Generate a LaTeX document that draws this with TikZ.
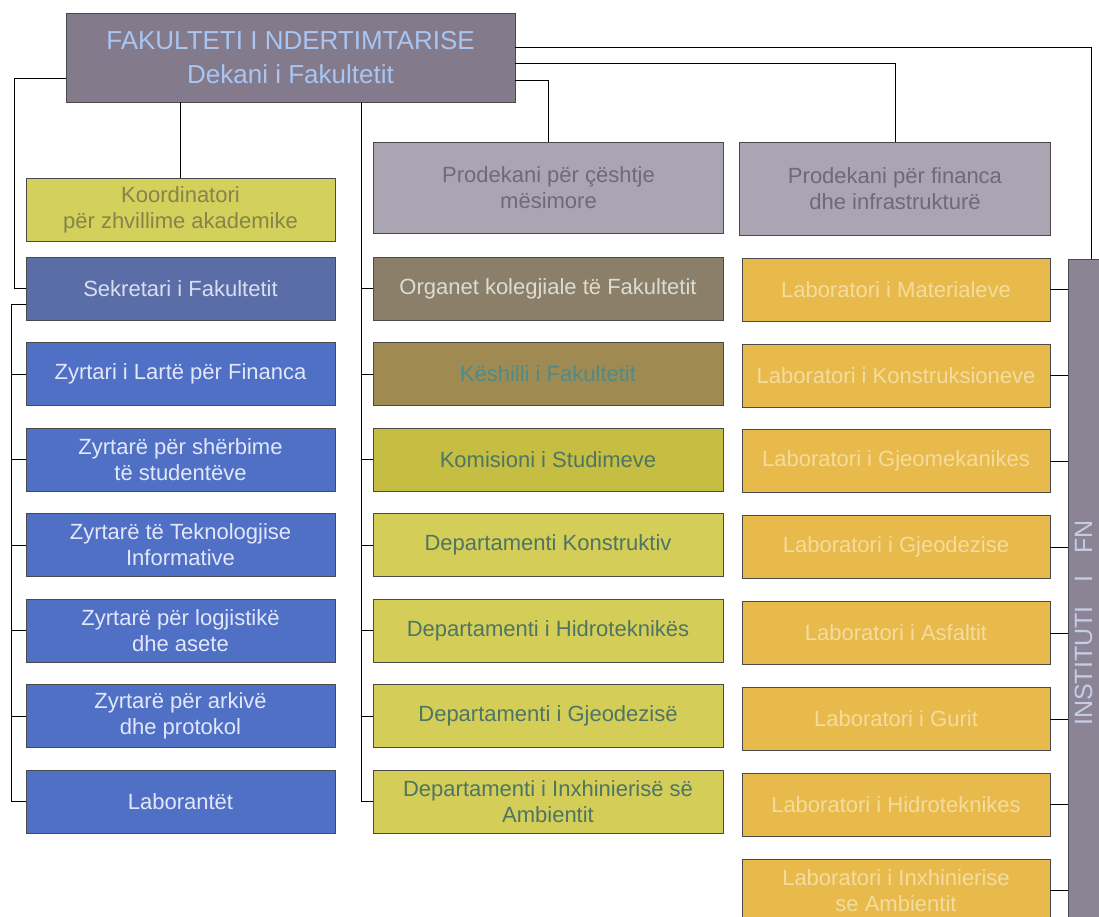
\documentclass[tikz,border=0pt]{standalone}
\usepackage{fontspec}
\setmainfont{Liberation Sans}
\usepackage{graphicx}
\definecolor{dekan}{HTML}{837A8B}
\definecolor{dekantxt}{HTML}{A9C5F2}
\definecolor{koord}{HTML}{D3D05C}
\definecolor{koordtxt}{HTML}{86844A}
\definecolor{sekr}{HTML}{5B6DA6}
\definecolor{sekrtxt}{HTML}{D8DEF2}
\definecolor{zyrt}{HTML}{5070C6}
\definecolor{zyrttxt}{HTML}{E2E8FA}
\definecolor{prod}{HTML}{ABA4B3}
\definecolor{prodtxt}{HTML}{6F6A78}
\definecolor{organ}{HTML}{8B7F69}
\definecolor{organtxt}{HTML}{DCDCD2}
\definecolor{keshill}{HTML}{9F8B52}
\definecolor{keshilltxt}{HTML}{4D8B8A}
\definecolor{komis}{HTML}{C6BE42}
\definecolor{dept}{HTML}{D4CE58}
\definecolor{depttxt}{HTML}{4E7564}
\definecolor{labor}{HTML}{E8BA4C}
\definecolor{labortxt}{HTML}{F4DC9E}
\definecolor{inst}{HTML}{8B8495}
\definecolor{insttxt}{HTML}{C4CDE6}
\definecolor{edge}{HTML}{4A4A4A}
\begin{document}
\begin{tikzpicture}[x=1pt,y=-1pt]
\tikzstyle{every node}+=[inner sep=0pt]
\tikzstyle{box}=[draw=edge, line width=0.7pt, align=center, font=\fontsize{22}{26}\selectfont, minimum height=63pt]
\tikzstyle{lcol}=[box, minimum width=309pt]
\tikzstyle{mcol}=[box, minimum width=350pt]
\tikzstyle{rcol}=[box, minimum width=308pt, fill=labor, text=labortxt]
\tikzstyle{conn}=[black, line width=1pt]
\useasboundingbox (0,0) rectangle (1099,917);
\clip (0,0) rectangle (1099,917);
\fill [white] (0,0) rectangle (1099,917);
\node [box, minimum width=449pt, minimum height=89pt, fill=dekan, text=dekantxt, font=\fontsize{26}{34}\selectfont] (dekan) at (290.5,57.5) {FAKULTETI I NDERTIMTARISE\\Dekani i Fakultetit};
\node [lcol, fill=koord, text=koordtxt] (koord) at (180.5,209.5) {Koordinatori\\për zhvillime akademike};
\node [lcol, fill=sekr, text=sekrtxt] (sekr) at (180.5,288.5) {Sekretari i Fakultetit};
\node [lcol, fill=zyrt, text=zyrttxt] (finz) at (180.5,374) {Zyrtari i Lartë për Financa};
\node [lcol, fill=zyrt, text=zyrttxt] (stud) at (180.5,459.5) {Zyrtarë për shërbime\\të studentëve};
\node [lcol, fill=zyrt, text=zyrttxt] (tekn) at (180.5,545) {Zyrtarë të Teknologjise\\Informative};
\node [lcol, fill=zyrt, text=zyrttxt] (logj) at (180.5,630.5) {Zyrtarë për logjistikë\\dhe asete};
\node [lcol, fill=zyrt, text=zyrttxt] (arki) at (180.5,716) {Zyrtarë për arkivë\\dhe protokol};
\node [lcol, fill=zyrt, text=zyrttxt] (labt) at (180.5,801.5) {Laborantët};
\node [mcol, minimum height=91pt, fill=prod, text=prodtxt] (prodm) at (548.5,187.5) {Prodekani për çështje\\mësimore};
\node [mcol, fill=organ, text=organtxt] (organ) at (548,288.5) {Organet kolegjiale të Fakultetit};
\node [mcol, fill=keshill, text=keshilltxt] (kesh) at (548,374) {Këshilli i Fakultetit};
\node [mcol, fill=komis, text=depttxt] (komis) at (548,459.5) {Komisioni i Studimeve};
\node [mcol, fill=dept, text=depttxt] (dkons) at (548,545) {Departamenti Konstruktiv};
\node [mcol, fill=dept, text=depttxt] (dhidr) at (548,630.5) {Departamenti i Hidroteknikës};
\node [mcol, fill=dept, text=depttxt] (dgjeo) at (548,716) {Departamenti i Gjeodezisë};
\node [mcol, fill=dept, text=depttxt] (dinx) at (548,801.5) {Departamenti i Inxhinierisë së\\Ambientit};
\node [box, minimum width=311pt, minimum height=93pt, fill=prod, text=prodtxt] (prodf) at (895,188.5) {Prodekani për financa\\dhe infrastrukturë};
\node [rcol] (lmat) at (896,289.5) {Laboratori i Materialeve};
\node [rcol] (lkon) at (896,375.5) {Laboratori i Konstruksioneve};
\node [rcol] (lgjm) at (896,461) {Laboratori i Gjeomekanikes};
\node [rcol] (lgjd) at (896,547) {Laboratori i Gjeodezise};
\node [rcol] (lasf) at (896,633) {Laboratori i Asfaltit};
\node [rcol] (lgur) at (896,719) {Laboratori i Gurit};
\node [rcol] (lhid) at (896,804.5) {Laboratori i Hidroteknikes};
\node [rcol] (linx) at (896,890.5) {Laboratori i Inxhinierise\\se Ambientit};
\node [draw=edge, line width=0.7pt, fill=inst, text=insttxt, minimum width=31pt, minimum height=728pt, font=\fontsize{25}{30}\selectfont] (inst) at (1083.5,623) {\rotatebox{90}{INSTITUTI\hspace{24pt}I\hspace{22pt}FN}};
\coordinate (mt) at (361,0);
\draw [conn] ([yshift=-21.5pt]dekan.west) -| ([xshift=-11pt]sekr.west) -- (sekr.west);
\draw [conn] ([yshift=-15.5pt]sekr.west) -| ([xshift=-14pt]labt.west) -- (labt.west);
\draw [conn] (finz.west) -- ++(-14,0);
\draw [conn] (stud.west) -- ++(-14,0);
\draw [conn] (tekn.west) -- ++(-14,0);
\draw [conn] (logj.west) -- ++(-14,0);
\draw [conn] (arki.west) -- ++(-14,0);
\draw [conn] (dekan.south -| koord.north) -- (koord.north);
\draw [conn] (dekan.south -| mt) |- (dinx.west);
\draw [conn] (organ.west) -- (organ.west -| mt);
\draw [conn] (kesh.west) -- (kesh.west -| mt);
\draw [conn] (komis.west) -- (komis.west -| mt);
\draw [conn] (dkons.west) -- (dkons.west -| mt);
\draw [conn] (dhidr.west) -- (dhidr.west -| mt);
\draw [conn] (dgjeo.west) -- (dgjeo.west -| mt);
\draw [conn] ([yshift=-23.5pt]dekan.east) -| (prodm.north);
\draw [conn] ([yshift=-6.5pt]dekan.east) -| (prodf.north);
\draw [conn] ([yshift=9.5pt]dekan.east) -| ([xshift=7.5pt]inst.north);
\draw [conn] (lmat.east) -- (lmat.east -| inst.west);
\draw [conn] (lkon.east) -- (lkon.east -| inst.west);
\draw [conn] (lgjm.east) -- (lgjm.east -| inst.west);
\draw [conn] (lgjd.east) -- (lgjd.east -| inst.west);
\draw [conn] (lasf.east) -- (lasf.east -| inst.west);
\draw [conn] (lgur.east) -- (lgur.east -| inst.west);
\draw [conn] (lhid.east) -- (lhid.east -| inst.west);
\draw [conn] (linx.east) -- (linx.east -| inst.west);
\end{tikzpicture}
\end{document}
